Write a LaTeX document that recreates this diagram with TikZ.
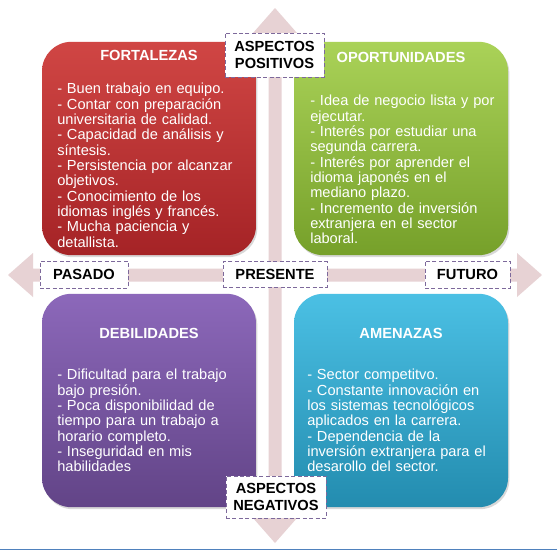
\documentclass[tikz,border=0pt]{standalone}
\usepackage{fontspec}
\setmainfont{Liberation Sans}
\usetikzlibrary{shadows}
\definecolor{axispink}{RGB}{231,210,212}
\definecolor{redtop}{RGB}{208,70,68}
\definecolor{redbot}{RGB}{165,35,38}
\definecolor{greentop}{RGB}{170,210,88}
\definecolor{greenbot}{RGB}{118,160,42}
\definecolor{purptop}{RGB}{140,104,186}
\definecolor{purpbot}{RGB}{98,68,135}
\definecolor{tealtop}{RGB}{75,192,228}
\definecolor{tealbot}{RGB}{35,140,175}
\definecolor{dashcol}{RGB}{125,105,155}
\definecolor{edgeblue}{RGB}{79,129,189}
\begin{document}
\begin{tikzpicture}[x=0.75pt,y=-0.75pt,
  quad/.style={rectangle, rounded corners=22pt, minimum width=160.5pt, minimum height=160pt, inner sep=0pt,
    drop shadow={shadow xshift=1pt,shadow yshift=-1.5pt,opacity=0.3}},
  ttl/.style={text=white, font=\fontsize{11}{13}\selectfont\bfseries, inner sep=0pt},
  body/.style={text=white, align=left, anchor=north west, inner sep=0pt, text width=170pt,
    font=\fontsize{10.95}{11.5}\selectfont},
  tag/.style={draw=dashcol, dash pattern=on 3pt off 1.8pt, line width=0.6pt, fill=white, inner sep=0pt,
    align=center, font=\fontsize{11}{12.75}\selectfont\bfseries}]
\useasboundingbox (0,0) rectangle (557,551);
\fill[white] (0,0) rectangle (557,551);
% axes
\fill[axispink] (275,8) -- (297,33) -- (281.5,33) -- (281.5,518) -- (297,518) -- (275,543)
  -- (253,518) -- (268.5,518) -- (268.5,33) -- (253,33) -- cycle;
\fill[axispink] (8,275) -- (33,253) -- (33,268.5) -- (517,268.5) -- (517,253) -- (542,275)
  -- (517,297) -- (517,281.5) -- (33,281.5) -- (33,297) -- cycle;
% quadrants
\node[quad, top color=redtop, bottom color=redbot] (fort) at (149,148.5) {};
\node[quad, top color=greentop, bottom color=greenbot] (opor) at (401,148.5) {};
\node[quad, top color=purptop, bottom color=purpbot] (debi) at (149,400.5) {};
\node[quad, top color=tealtop, bottom color=tealbot] (amen) at (401,400.5) {};
% titles
\node[ttl] (fortt) at (149,55) {FORTALEZAS};
\node[ttl] (oport) at (401,57) {OPORTUNIDADES};
\node[ttl] (debit) at (149,333) {DEBILIDADES};
\node[ttl] (ament) at (401,333) {AMENAZAS};
% bodies
\node[body] (fortb) at (57,83) {%
- Buen trabajo en equipo.\\
- Contar con preparación\\
universitaria de calidad.\\
- Capacidad de análisis y\\
síntesis.\\
- Persistencia por alcanzar\\
objetivos.\\
- Conocimiento de los\\
idiomas inglés y francés.\\
- Mucha paciencia y\\
detallista.};
\node[body] (oporb) at (310,95) {%
- Idea de negocio lista y por\\
ejecutar.\\
- Interés por estudiar una\\
segunda carrera.\\
- Interés por aprender el\\
idioma japonés en el\\
mediano plazo.\\
- Incremento de inversión\\
extranjera en el sector\\
laboral.};
\node[body] (debib) at (57,369) {%
- Dificultad para el trabajo\\
bajo presión.\\
- Poca disponibilidad de\\
tiempo para un trabajo a\\
horario completo.\\
- Inseguridad en mis\\
habilidades};
\node[body] (amenb) at (307,369) {%
- Sector competitvo.\\
- Constante innovación en\\
los sistemas tecnológicos\\
aplicados en la carrera.\\
- Dependencia de la\\
inversión extranjera para el\\
desarollo del sector.};
% tags
\node[tag, minimum width=74.25pt, minimum height=33pt] (pos) at (274.5,55) {ASPECTOS\\POSITIVOS};
\node[tag, minimum width=75pt, minimum height=31.5pt] (neg) at (276,497) {ASPECTOS\\NEGATIVOS};
\node[tag, minimum width=66pt, minimum height=20.25pt] (pas) at (84,274.5) {PASADO};
\node[tag, minimum width=78pt, minimum height=19pt] (pre) at (275,274.5) {PRESENTE};
\node[tag, minimum width=63.75pt, minimum height=20.25pt] (fut) at (467.5,274.5) {FUTURO};
% bottom rule
\draw[edgeblue, line width=0.9pt] (0,549.5) -- (557,549.5);
\end{tikzpicture}
\end{document}
